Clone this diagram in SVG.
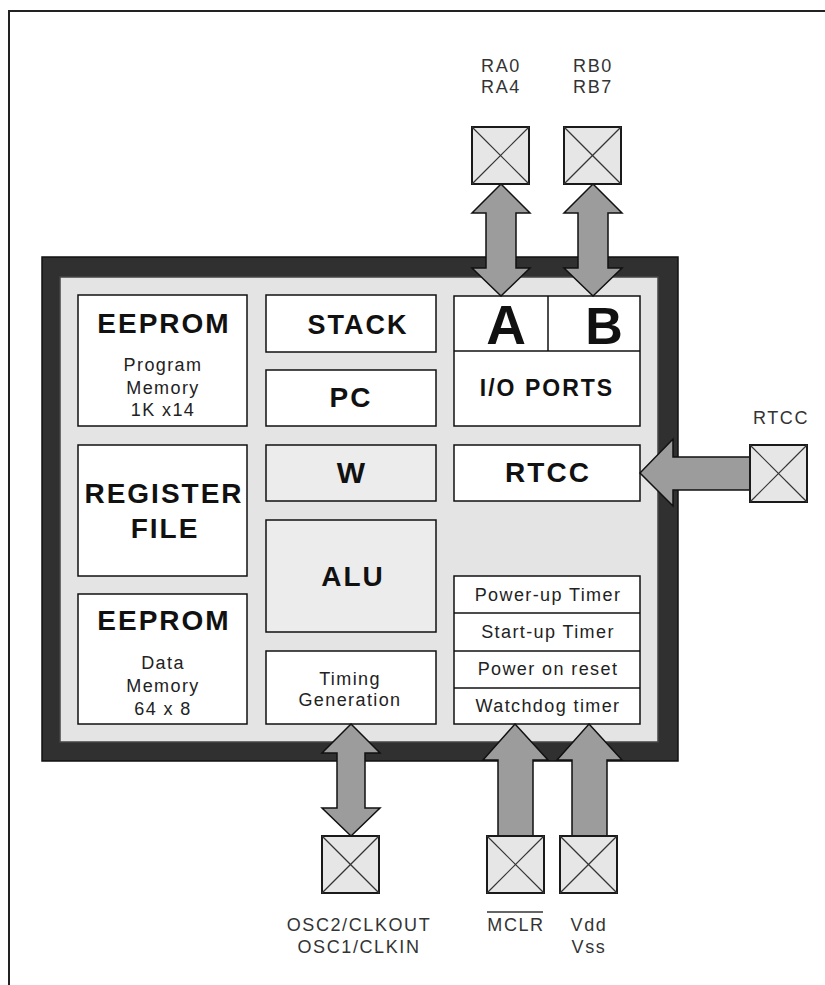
<svg xmlns="http://www.w3.org/2000/svg" width="825" height="985" viewBox="0 0 825 985">
<style>
.frame{fill:none;stroke:#222;stroke-width:2}
.chip{fill:#303030;stroke:#111;stroke-width:1.5}
.inner{fill:#e4e4e4;stroke:#444;stroke-width:1.5}
.box{fill:#fff;stroke:#111;stroke-width:1.5}
.gbox{fill:#ececec;stroke:#111;stroke-width:1.5}
.pin{fill:#e6e6e6;stroke:#1a1a1a;stroke-width:2}
.x{stroke:#333;stroke-width:1.2}
.arr{fill:#9c9c9c;stroke:#111;stroke-width:1.5;stroke-linejoin:miter}
.b{font-family:"Liberation Sans",Arial,sans-serif;font-weight:bold;fill:#111;text-anchor:middle;letter-spacing:2px}
.t{font-family:"Liberation Sans",Arial,sans-serif;font-size:18px;fill:#222;text-anchor:middle;letter-spacing:1.4px}
.l{font-family:"Liberation Sans",Arial,sans-serif;font-size:18px;fill:#333;text-anchor:middle;letter-spacing:1.6px}
</style>
<defs>
<g id="pinbox">
<rect class="pin" x="0" y="0" width="57" height="57"/>
<line class="x" x1="0" y1="0" x2="57" y2="57"/>
<line class="x" x1="57" y1="0" x2="0" y2="57"/>
</g>
</defs>

<path class="frame" d="M9 985 V11 H825"/>

<g id="chip">
<rect class="chip" x="42" y="257" width="636" height="504"/>
<rect class="inner" x="60" y="277" width="598" height="465"/>
</g>

<g id="eeprom-program">
<rect class="box" x="78" y="295" width="169" height="131"/>
<text class="b" x="164" y="333" font-size="28">EEPROM</text>
<text class="t" x="163" y="371">Program</text>
<text class="t" x="163" y="394">Memory</text>
<text class="t" x="163" y="416">1K x14</text>
</g>

<g id="register-file">
<rect class="box" x="78" y="445" width="169" height="131"/>
<text class="b" x="164" y="503" font-size="28">REGISTER</text>
<text class="b" x="165" y="538" font-size="28">FILE</text>
</g>

<g id="eeprom-data">
<rect class="box" x="78" y="594" width="169" height="130"/>
<text class="b" x="164" y="630" font-size="28">EEPROM</text>
<text class="t" x="163" y="669">Data</text>
<text class="t" x="163" y="692">Memory</text>
<text class="t" x="163" y="715">64 x 8</text>
</g>

<g id="stack">
<rect class="box" x="266" y="295" width="170" height="57"/>
<text class="b" x="358" y="334" font-size="27">STACK</text>
</g>

<g id="pc">
<rect class="box" x="266" y="370" width="170" height="56"/>
<text class="b" x="351" y="407" font-size="28">PC</text>
</g>

<g id="w">
<rect class="gbox" x="266" y="445" width="170" height="56"/>
<text class="b" x="352" y="483" font-size="30" letter-spacing="0">W</text>
</g>

<g id="alu">
<rect class="gbox" x="266" y="520" width="170" height="112"/>
<text class="b" x="353" y="586" font-size="28">ALU</text>
</g>

<g id="timing">
<rect class="box" x="266" y="651" width="170" height="73"/>
<text class="t" x="350" y="685">Timing</text>
<text class="t" x="350" y="706">Generation</text>
</g>

<g id="io-ports">
<rect class="box" x="454" y="296" width="186" height="130"/>
<line x1="454" y1="351" x2="640" y2="351" stroke="#111" stroke-width="1.5"/>
<line x1="548" y1="296" x2="548" y2="351" stroke="#111" stroke-width="1.5"/>
<text class="b" x="507" y="344" font-size="55" letter-spacing="0">A</text>
<text class="b" x="605" y="344" font-size="52" letter-spacing="0">B</text>
<text class="b" x="547" y="396" font-size="23" letter-spacing="1.5">I/O PORTS</text>
</g>

<g id="rtcc">
<rect class="box" x="454" y="445" width="186" height="56"/>
<text class="b" x="548" y="482" font-size="28">RTCC</text>
</g>

<g id="timers">
<rect class="box" x="454" y="576" width="186" height="148"/>
<line x1="454" y1="613" x2="640" y2="613" stroke="#111" stroke-width="1.5"/>
<line x1="454" y1="651" x2="640" y2="651" stroke="#111" stroke-width="1.5"/>
<line x1="454" y1="688" x2="640" y2="688" stroke="#111" stroke-width="1.5"/>
<text class="t" x="548" y="601">Power-up Timer</text>
<text class="t" x="548" y="638">Start-up Timer</text>
<text class="t" x="548" y="675">Power on reset</text>
<text class="t" x="548" y="712">Watchdog timer</text>
</g>

<g id="connectors">
<polygon class="arr" points="501,184 530,213 516,213 516,268 530,268 501,296 472,268 486,268 486,213 472,213"/>
<polygon class="arr" points="593,184 622,213 608,213 608,268 622,268 593,296 564,268 578,268 578,213 564,213"/>
<polygon class="arr" points="640,473 673,439 673,457 751,457 751,490 673,490 673,506"/>
<polygon class="arr" points="351,724 380,753 365,753 365,808 380,808 351,836 322,808 337,808 337,753 322,753"/>
<polygon class="arr" points="515,724 548,760 533,760 533,837 498,837 498,760 483,760"/>
<polygon class="arr" points="589,724 622,760 607,760 607,837 572,837 572,760 557,760"/>
</g>

<g id="pin-ra">
<use href="#pinbox" x="472" y="127"/>
<text class="l" x="501" y="72">RA0</text>
<text class="l" x="501" y="93">RA4</text>
</g>
<g id="pin-rb">
<use href="#pinbox" x="564" y="127"/>
<text class="l" x="593" y="72">RB0</text>
<text class="l" x="593" y="93">RB7</text>
</g>
<g id="pin-rtcc">
<use href="#pinbox" x="750" y="445"/>
<text class="l" x="781" y="424">RTCC</text>
</g>
<g id="pin-osc">
<use href="#pinbox" x="322" y="836"/>
<text class="l" x="359" y="931">OSC2/CLKOUT</text>
<text class="l" x="359" y="953">OSC1/CLKIN</text>
</g>
<g id="pin-mclr">
<use href="#pinbox" x="487" y="836"/>
<text class="l" x="516" y="931">MCLR</text>
<line x1="487" y1="912" x2="543" y2="912" stroke="#333" stroke-width="1.3"/>
</g>
<g id="pin-vdd">
<use href="#pinbox" x="560" y="836"/>
<text class="l" x="589" y="931">Vdd</text>
<text class="l" x="589" y="953">Vss</text>
</g>
</svg>
